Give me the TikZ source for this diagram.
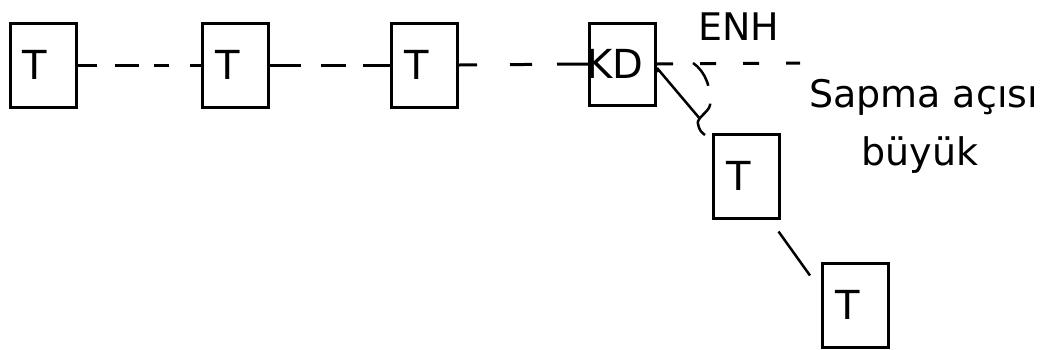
\documentclass[tikz,border=0pt]{standalone}
\usepackage{fontspec}
\setmainfont{DejaVu Sans}
\usetikzlibrary{calc}
\setlength{\parindent}{0pt}
\begin{document}
\begin{tikzpicture}[x=1pt,y=-1pt,
  tbox/.style={draw, line width=3pt, minimum width=66pt, minimum height=84pt,
    inner sep=0pt, text width=40pt, align=left, font=\fontsize{40}{48}\selectfont},
  link/.style={line width=3pt},
  lbl/.style={inner sep=0pt, font=\fontsize{38}{46}\selectfont}]
\useasboundingbox (0,0) rectangle (1046,349);
\node[tbox] (b1) at (43,65) {T};
\node[tbox] (b2) at (235.5,65) {T};
\node[tbox] (b3) at (424.5,65) {T};
\node[tbox, minimum height=82pt, text width=66pt] (kd) at (622.5,64) {\hspace*{-3pt}KD};
\node[tbox] (b5) at (746,176) {T};
\node[tbox] (b6) at (855.5,305) {T};
\coordinate (enh) at (800,63);
% horizontal dashed connectors
\draw[link, dash pattern=on 19pt off 18pt on 24pt off 15pt on 15pt off 21pt on 40pt off 0pt] (b1.east) -- (b2.west);
\draw[link, dash pattern=on 31pt off 20pt on 25pt off 17pt on 40pt off 0pt] (b2.east) -- (b3.west);
\draw[link, dash pattern=on 18pt off 33pt on 22pt off 25pt on 40pt off 0pt] (b3.east) -- (kd.west);
\draw[link, dash pattern=on 16pt off 27pt] (kd.east) -- (enh);
% diagonal connectors
\draw[line width=2.5pt, shorten >=18pt] ($(kd.east)+(0,4)$) -- (b5.north west);
\fill ($(kd.east)+(0,6)$) circle (2.5pt);
\draw[line width=2.5pt] ($(b5.south east)+(-2,12)$) -- ($(b6.north west)+(-11,14)$);
% angle arc
\draw[line width=2.5pt, dash pattern=on 28pt off 18pt on 80pt off 0pt]
  (693,63) .. controls (706,72) and (711,88) .. (710,105)
  .. controls (709,112) and (696,118) .. (698,124)
  .. controls (699,130) and (702,133) .. (705,135);
% labels
\node[lbl, anchor=base west] (enhl) at (698,40) {ENH};
\node[lbl, anchor=base] (sapma) at (923.5,107) {Sapma açısı};
\node[lbl, anchor=base] (buyuk) at (920,165) {büyük};
\end{tikzpicture}
\end{document}
